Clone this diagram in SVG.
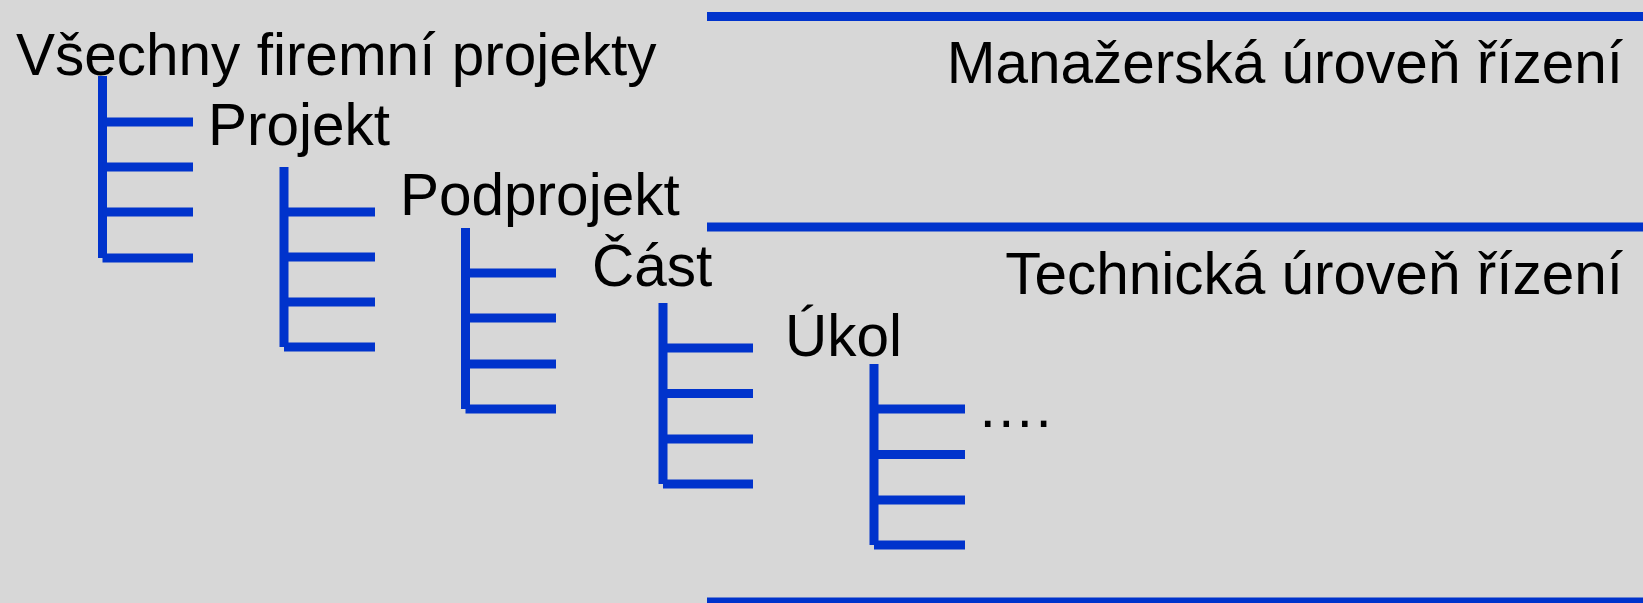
<svg xmlns="http://www.w3.org/2000/svg" width="1643" height="603" viewBox="0 0 1643 603">
  <style>
    .bg { fill: #d7d7d7; }
    .rule { stroke: #0033cc; stroke-width: 9; fill: none; }
    .tree line { stroke: #0033cc; stroke-width: 9; stroke-linecap: butt; }
    .lbl { font-family: "Liberation Sans", Arial, sans-serif; font-size: 58.5px; fill: #000; }
  </style>
  <rect class="bg" x="0" y="0" width="1643" height="603"/>

  <!-- level separators on the right -->
  <g id="connectors">
    <line class="rule" x1="707" y1="16.5" x2="1643" y2="16.5"/>
    <line class="rule" x1="707" y1="227" x2="1643" y2="227"/>
    <line class="rule" x1="707" y1="602" x2="1643" y2="602"/>
  </g>

  <!-- hierarchy labels -->
  <g id="all-projects"><text class="lbl" x="16" y="75">Všechny firemní projekty</text></g>
  <g id="project"><text class="lbl" x="208" y="145">Projekt</text></g>
  <g id="subproject"><text class="lbl" x="400" y="215">Podprojekt</text></g>
  <g id="part"><text class="lbl" x="592" y="286">Část</text></g>
  <g id="task"><text class="lbl" x="785" y="356">Úkol</text></g>
  <g id="more"><text class="lbl" x="977" y="427">….</text></g>

  <g id="management-level"><text class="lbl" x="1623" y="83" text-anchor="end">Manažerská úroveň řízení</text></g>
  <g id="technical-level"><text class="lbl" x="1623" y="293.5" text-anchor="end">Technická úroveň řízení</text></g>

  <!-- branching trees -->
  <g id="tree-1" class="tree">
    <line x1="102.5" y1="76" x2="102.5" y2="258"/>
    <line x1="102.5" y1="122" x2="193" y2="122"/>
    <line x1="102.5" y1="167" x2="193" y2="167"/>
    <line x1="102.5" y1="212" x2="193" y2="212"/>
    <line x1="102.5" y1="258" x2="193" y2="258"/>
  </g>
  <g id="tree-2" class="tree">
    <line x1="284" y1="167" x2="284" y2="347"/>
    <line x1="284" y1="212" x2="375" y2="212"/>
    <line x1="284" y1="257" x2="375" y2="257"/>
    <line x1="284" y1="302" x2="375" y2="302"/>
    <line x1="284" y1="347" x2="375" y2="347"/>
  </g>
  <g id="tree-3" class="tree">
    <line x1="465.5" y1="228" x2="465.5" y2="409"/>
    <line x1="465.5" y1="273" x2="556" y2="273"/>
    <line x1="465.5" y1="318" x2="556" y2="318"/>
    <line x1="465.5" y1="364" x2="556" y2="364"/>
    <line x1="465.5" y1="409" x2="556" y2="409"/>
  </g>
  <g id="tree-4" class="tree">
    <line x1="663" y1="303" x2="663" y2="484"/>
    <line x1="663" y1="348" x2="753" y2="348"/>
    <line x1="663" y1="393.5" x2="753" y2="393.5"/>
    <line x1="663" y1="439" x2="753" y2="439"/>
    <line x1="663" y1="484" x2="753" y2="484"/>
  </g>
  <g id="tree-5" class="tree">
    <line x1="874" y1="364" x2="874" y2="545"/>
    <line x1="874" y1="409" x2="965" y2="409"/>
    <line x1="874" y1="454.5" x2="965" y2="454.5"/>
    <line x1="874" y1="500" x2="965" y2="500"/>
    <line x1="874" y1="545" x2="965" y2="545"/>
  </g>
</svg>
